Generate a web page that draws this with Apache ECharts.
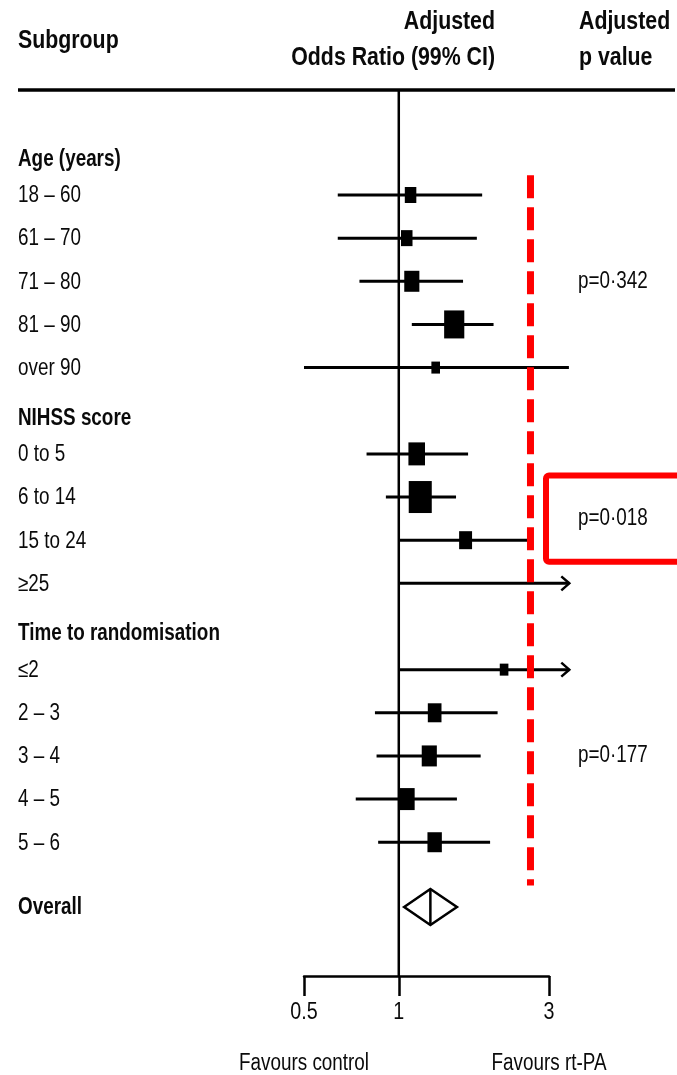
<!DOCTYPE html>
<html>
<head>
<meta charset="utf-8">
<script src="https://cdn.jsdelivr.net/npm/echarts@6/dist/echarts.min.js"></script>
<style>
html, body { margin: 0; padding: 0; background: #fff; }
#main { width: 677px; height: 1075px; }
</style>
</head>
<body>
<div id="main"></div>
<script>
var groupTitles = ['Age (years)', 'NIHSS score', 'Time to randomisation'];
var ageLabels = ['18 – 60', '61 – 70', '71 – 80', '81 – 90', 'over 90'];
var nihssLabels = ['0 to 5', '6 to 14', '15 to 24', '≥25'];
var timeLabels = ['≤2', '2 – 3', '3 – 4', '4 – 5', '5 – 6'];
// adjusted odds ratios with 99% CI, null = off the scale
var oddsRatio = [1.09, 1.06, 1.10, 1.50, 1.31, 1.14, 1.17, 1.63, null, 2.16, 1.30, 1.25, 1.06, 1.30];
var ciLower = [0.64, 0.64, 0.75, 1.10, 0.50, 0.79, 0.91, 1.00, 1.00, 1.00, 0.84, 0.85, 0.73, 0.86];
var ciUpper = [1.84, 1.77, 1.60, 2.00, 3.47, 1.66, 1.52, 2.58, null, null, 2.06, 1.82, 1.53, 1.95];
var weights = [16, 16, 21, 28, 12, 23, 32, 18, 0, 12, 19, 21, 22, 20];
var pValues = ['p=0·342', 'p=0·018', 'p=0·177'];
var overallOR = 1.26, overallLower = 1.04, overallUpper = 1.53;
var tickValues = [0.5, 1, 3];
var tickLabels = ['0.5', '1', '3'];
var favourLabels = ['Favours control', 'Favours rt-PA'];
var dashedRefOR = 2.62;

// Arial metrics squeezed to Arial Narrow width
var FONT = "'Liberation Sans', Arial, sans-serif";
var SQUEEZE = 0.82;
var INK = '#0a0a0a';

// lay rows out: a header slot per group, then one slot per subgroup
var groupLabels = [ageLabels, nihssLabels, timeLabels];
var rows = [], headers = [], pRows = [];
var slot = 0, k = 0;
groupLabels.forEach(function (labels, g) {
    headers.push({ name: groupTitles[g], slot: slot + 0.15 });
    slot += 1;
    var first = slot;
    labels.forEach(function (lab) {
        rows.push({ name: lab, slot: slot, or: oddsRatio[k], lo: ciLower[k], hi: ciUpper[k], w: weights[k] });
        slot += 1;
        k += 1;
    });
    pRows.push({ text: pValues[g], slot: (first + slot - 1) / 2, highlight: g === 1 });
});
var lastSlot = slot - 1;
var overallSlot = slot + 0.5;
var arrowLimit = 3.48;
var yMin = -1.433, yMax = 19.10;

function txt(text, x, y, size, bold, align) {
    return {
        type: 'text', x: x, y: y, scaleX: SQUEEZE,
        style: {
            text: text, fill: INK, fontSize: size, fontFamily: FONT,
            fontWeight: bold ? 'bold' : 'normal', align: align || 'left', verticalAlign: 'middle'
        }
    };
}

var myChart = echarts.init(document.getElementById('main'));

var option = {
    backgroundColor: '#fff',
    animation: false,
    grid: { left: 304, right: 128, top: 90, bottom: 99, containLabel: false },
    xAxis: {
        type: 'log',
        logBase: 10,
        min: 0.5,
        max: 3,
        position: 'bottom',
        axisLine: { show: true, onZero: false, lineStyle: { color: '#000', width: 2.5 } },
        axisTick: { show: true, customValues: tickValues, length: 20, inside: false, lineStyle: { color: '#000', width: 2.5 } },
        axisLabel: { show: false },
        splitLine: { show: false },
        minorTick: { show: false }
    },
    yAxis: { type: 'value', inverse: true, min: yMin, max: yMax, show: false, splitLine: { show: false } },
    graphic: [
        { type: 'line', shape: { x1: 18, y1: 90, x2: 675, y2: 90 }, style: { stroke: '#000', lineWidth: 3.5 } },
        txt('Subgroup', 18, 41, 26, true),
        txt('Adjusted', 495, 22, 26, true, 'right'),
        txt('Odds Ratio (99% CI)', 495, 58, 26, true, 'right'),
        txt('Adjusted', 579, 22, 26, true),
        txt('p value', 579, 58, 26, true)
    ],
    series: [
        {
            // line of no effect
            type: 'custom',
            z: 2,
            data: [[1, yMin]],
            renderItem: function (params, api) {
                var a = api.coord([1, yMin]), b = api.coord([1, yMax]);
                return { type: 'line', shape: { x1: a[0], y1: a[1], x2: b[0], y2: b[1] }, style: { stroke: '#000', lineWidth: 2.5 } };
            }
        },
        {
            type: 'custom',
            z: 3,
            data: rows.map(function (r) { return [r.or || r.lo, r.slot]; }),
            renderItem: function (params, api) {
                var r = rows[params.dataIndex];
                var hiVal = r.hi == null ? arrowLimit : r.hi;
                var p0 = api.coord([r.lo, r.slot]);
                var p1 = api.coord([hiVal, r.slot]);
                var children = [
                    { type: 'line', shape: { x1: p0[0], y1: p0[1], x2: p1[0], y2: p1[1] }, style: { stroke: '#000', lineWidth: 3 } }
                ];
                if (r.hi == null) {
                    children.push({
                        type: 'polyline',
                        shape: { points: [[p1[0] - 8, p1[1] - 7], [p1[0], p1[1]], [p1[0] - 8, p1[1] + 7]] },
                        style: { stroke: '#000', lineWidth: 2.5, fill: null }
                    });
                }
                if (r.or != null) {
                    var c = api.coord([r.or, r.slot]);
                    var h = r.w, w = r.w * 0.72;
                    children.push({ type: 'rect', shape: { x: c[0] - w / 2, y: c[1] - h / 2, width: w, height: h }, style: { fill: '#000' } });
                }
                children.push(txt(r.name, 18, p0[1] + 1, 23, false));
                return { type: 'group', children: children };
            }
        },
        {
            // group headers and overall label
            type: 'custom',
            z: 3,
            data: headers.map(function (h) { return [1, h.slot]; }).concat([[1, overallSlot]]),
            renderItem: function (params, api) {
                var h = headers[params.dataIndex];
                var name = h ? h.name : 'Overall';
                var s = h ? h.slot : overallSlot;
                var p = api.coord([1, s]);
                return txt(name, 18, p[1] + 1, 23, true);
            }
        },
        {
            // overall diamond
            type: 'custom',
            z: 4,
            data: [[overallOR, overallSlot]],
            renderItem: function (params, api) {
                var l = api.coord([overallLower, overallSlot]);
                var c = api.coord([overallOR, overallSlot]);
                var r = api.coord([overallUpper, overallSlot]);
                var hh = 18;
                return {
                    type: 'group',
                    children: [
                        {
                            type: 'polygon',
                            shape: { points: [[l[0], l[1]], [c[0], c[1] - hh], [r[0], r[1]], [c[0], c[1] + hh]] },
                            style: { fill: '#fff', stroke: '#000', lineWidth: 2.5 }
                        },
                        { type: 'line', shape: { x1: c[0], y1: c[1] - hh, x2: c[0], y2: c[1] + hh }, style: { stroke: '#000', lineWidth: 2.5 } }
                    ]
                };
            }
        },
        {
            // red dashed reference
            type: 'custom',
            z: 5,
            data: [[dashedRefOR, 1]],
            renderItem: function (params, api) {
                var a = api.coord([dashedRefOR, rows[0].slot - 0.46]);
                var b = api.coord([dashedRefOR, lastSlot + 1]);
                return {
                    type: 'line',
                    shape: { x1: a[0], y1: a[1], x2: b[0], y2: b[1] },
                    style: { stroke: '#ff0000', lineWidth: 7, lineDash: [23, 9] }
                };
            }
        },
        {
            // p values
            type: 'custom',
            z: 5,
            data: pRows.map(function (p) { return [3, p.slot]; }),
            renderItem: function (params, api) {
                var p = pRows[params.dataIndex];
                var c = api.coord([3, p.slot]);
                var children = [txt(p.text, 578, c[1], 23, false)];
                if (p.highlight) {
                    var top = api.coord([3, p.slot - 1])[1];
                    var bot = api.coord([3, p.slot + 1])[1];
                    children.push({
                        type: 'rect',
                        shape: { x: 546, y: top, width: 150, height: bot - top, r: 3 },
                        style: { fill: null, stroke: '#ff0000', lineWidth: 6 }
                    });
                }
                return { type: 'group', children: children };
            }
        },
        {
            // tick labels under the axis
            type: 'custom',
            z: 3,
            data: tickValues.map(function (v) { return [v, yMax]; }),
            renderItem: function (params, api) {
                var c = api.coord([tickValues[params.dataIndex], yMax]);
                return txt(tickLabels[params.dataIndex], c[0], c[1] + 36, 24, false, 'center');
            }
        },
        {
            // favours labels under the axis
            type: 'custom',
            z: 3,
            data: [[tickValues[0], yMax], [tickValues[2], yMax]],
            renderItem: function (params, api) {
                var v = params.dataIndex === 0 ? tickValues[0] : tickValues[2];
                var c = api.coord([v, yMax]);
                return txt(favourLabels[params.dataIndex], c[0], c[1] + 88, 23, false, 'center');
            }
        }
    ]
};
myChart.setOption(option);
</script>
</body>
</html>
